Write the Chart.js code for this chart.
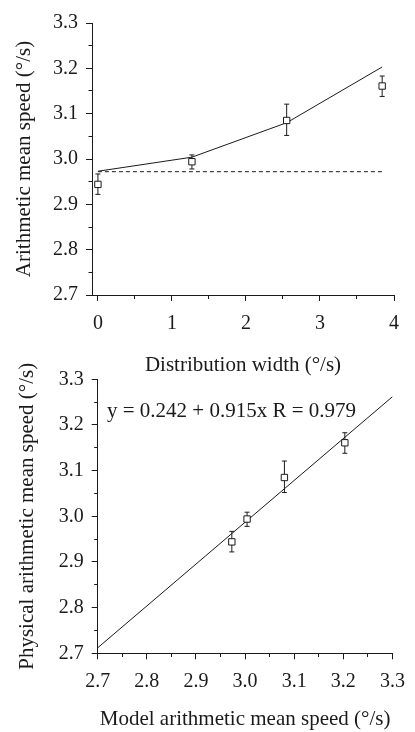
<!DOCTYPE html>
<html>
<head>
<meta charset="utf-8">
<script src="https://cdn.jsdelivr.net/npm/chart.js@4/dist/chart.umd.min.js"></script>
<style>
  html, body { margin: 0; padding: 0; background: #fff; }
  body { width: 415px; height: 732px; position: relative; overflow: hidden; }
  canvas { position: absolute; left: 0; }
  #top { top: 0; }
  #bottom { top: 350px; }
</style>
</head>
<body>
<canvas id="top" width="415" height="380"></canvas>
<canvas id="bottom" width="415" height="382"></canvas>
<script>
// datos
const distWidth = [0, 1.27, 2.55, 3.84];
const physMean = [2.944, 2.994, 3.085, 3.161];
const errLow = [2.922, 2.978, 3.052, 3.138];
const errHigh = [2.967, 3.009, 3.121, 3.183];
const modelMean = [2.973, 3.004, 3.080, 3.203];
const flatX = [0, 3.84];
const flatY = [2.972, 2.972];
const regX = [2.7, 3.3];
const regY = [2.712, 3.262];

const widthTicks = [0, 1, 2, 3, 4];
const speedTicks = [2.7, 2.8, 2.9, 3.0, 3.1, 3.2, 3.3];
const equation = 'y = 0.242 + 0.915x R = 0.979';

const SERIF = "'Liberation Serif', 'Times New Roman', serif";
const INK = '#1a1a1a';

// mayores + menores (puntos medios)
function conMenores(mayores) {
    const lista = [];
    mayores.forEach((v, i) => {
        lista.push({ value: v, minor: false });
        if (i < mayores.length - 1) lista.push({ value: (v + mayores[i + 1]) / 2, minor: true });
    });
    return lista;
}

function puntos(xs, ys) {
    return xs.map((x, i) => ({ x: x, y: ys[i] }));
}

function barrasError(xs) {
    const d = [];
    xs.forEach((x, i) => {
        d.push({ x: x, y: errLow[i] }, { x: x, y: errHigh[i] }, { x: x, y: null });
    });
    return d;
}

function capas(xs) {
    const d = [];
    xs.forEach((x, i) => {
        d.push({ x: x, y: errLow[i] }, { x: x, y: errHigh[i] });
    });
    return d;
}

function datasetsDatos(xs) {
    return [
        {
            data: puntos(xs, physMean),
            pointStyle: 'rect',
            pointRadius: 4.5,
            backgroundColor: '#fff',
            borderColor: INK,
            borderWidth: 1
        },
        {
            data: capas(xs),
            pointStyle: 'line',
            pointRadius: 2.5,
            borderColor: INK,
            borderWidth: 1
        },
        {
            data: barrasError(xs),
            showLine: true,
            spanGaps: false,
            pointRadius: 0,
            borderColor: INK,
            borderWidth: 1
        }
    ];
}

function eje(cfg) {
    const horizontal = cfg.position === 'bottom';
    return {
        type: 'linear',
        position: cfg.position,
        min: cfg.min,
        max: cfg.max,
        afterBuildTicks: (s) => { s.ticks = conMenores(cfg.ticks); },
        afterFit: (s) => {
            if (horizontal) s.height = cfg.size; else s.width = cfg.size;
        },
        border: { display: true, color: INK, width: 1 },
        grid: {
            drawOnChartArea: false,
            drawTicks: true,
            tickLength: 6,
            tickColor: INK,
            tickWidth: 1,
            tickBorderDash: (ctx) => {
                if (!ctx.tick || !ctx.tick.minor) return [];
                return horizontal ? [3, 20] : [0, 2.5, 4, 20];
            }
        },
        ticks: {
            autoSkip: false,
            maxRotation: 0,
            padding: cfg.tickPad,
            color: INK,
            font: { family: SERIF, size: 20 },
            callback: (v, i, t) => (t[i] && t[i].minor) ? '' : cfg.fmt(v)
        },
        title: {
            display: true,
            text: cfg.title,
            color: INK,
            font: { family: SERIF, size: 21, weight: 'normal' },
            padding: cfg.titlePad
        }
    };
}

const comunes = {
    responsive: false,
    animation: false,
    devicePixelRatio: 1,
    plugins: { legend: { display: false }, tooltip: { enabled: false } }
};

// grafico superior
new Chart(document.getElementById('top').getContext('2d'), {
    type: 'scatter',
    data: {
        datasets: [
            ...datasetsDatos(distWidth),
            {
                data: puntos(distWidth, modelMean),
                showLine: true,
                pointRadius: 0,
                borderColor: INK,
                borderWidth: 1
            },
            {
                data: puntos(flatX, flatY),
                showLine: true,
                pointRadius: 0,
                borderColor: INK,
                borderWidth: 1,
                borderDash: [4, 3]
            }
        ]
    },
    options: {
        ...comunes,
        layout: { padding: { top: 23, right: 21, bottom: 0, left: 0 } },
        scales: {
            x: eje({
                position: 'bottom', min: -0.08, max: 4, ticks: widthTicks, size: 85,
                tickPad: 11, fmt: (v) => String(v),
                title: 'Distribution width (°/s)', titlePad: { top: 0, bottom: 2.4 }
            }),
            y: eje({
                position: 'left', min: 2.7, max: 3.3, ticks: speedTicks, size: 92,
                tickPad: 8, fmt: (v) => v.toFixed(1),
                title: 'Arithmetic mean speed (°/s)', titlePad: { top: 11.4, bottom: 0 }
            })
        }
    }
});

// ecuacion de la regresion
const textoEcuacion = {
    id: 'textoEcuacion',
    afterDraw(chart) {
        const { ctx, chartArea } = chart;
        ctx.save();
        ctx.fillStyle = INK;
        ctx.font = '21px ' + SERIF;
        ctx.textBaseline = 'alphabetic';
        ctx.fillText(equation, chartArea.left + 9.3, chartArea.top + 37.7);
        ctx.restore();
    }
};

// grafico inferior
new Chart(document.getElementById('bottom').getContext('2d'), {
    type: 'scatter',
    data: {
        datasets: [
            ...datasetsDatos(modelMean),
            {
                data: puntos(regX, regY),
                showLine: true,
                pointRadius: 0,
                borderColor: INK,
                borderWidth: 1
            }
        ]
    },
    options: {
        ...comunes,
        layout: { padding: { top: 29.3, right: 16.3, bottom: 0, left: 0 } },
        scales: {
            x: eje({
                position: 'bottom', min: 2.7, max: 3.3, ticks: speedTicks, size: 78.7,
                tickPad: 10, fmt: (v) => v.toFixed(1),
                title: 'Model arithmetic mean speed (°/s)', titlePad: { top: 0, bottom: 0 }
            }),
            y: eje({
                position: 'left', min: 2.7, max: 3.3, ticks: speedTicks, size: 97.7,
                tickPad: 8, fmt: (v) => v.toFixed(1),
                title: 'Physical arithmetic mean speed (°/s)', titlePad: { top: 14.4, bottom: 0 }
            })
        }
    },
    plugins: [textoEcuacion]
});
</script>
</body>
</html>
